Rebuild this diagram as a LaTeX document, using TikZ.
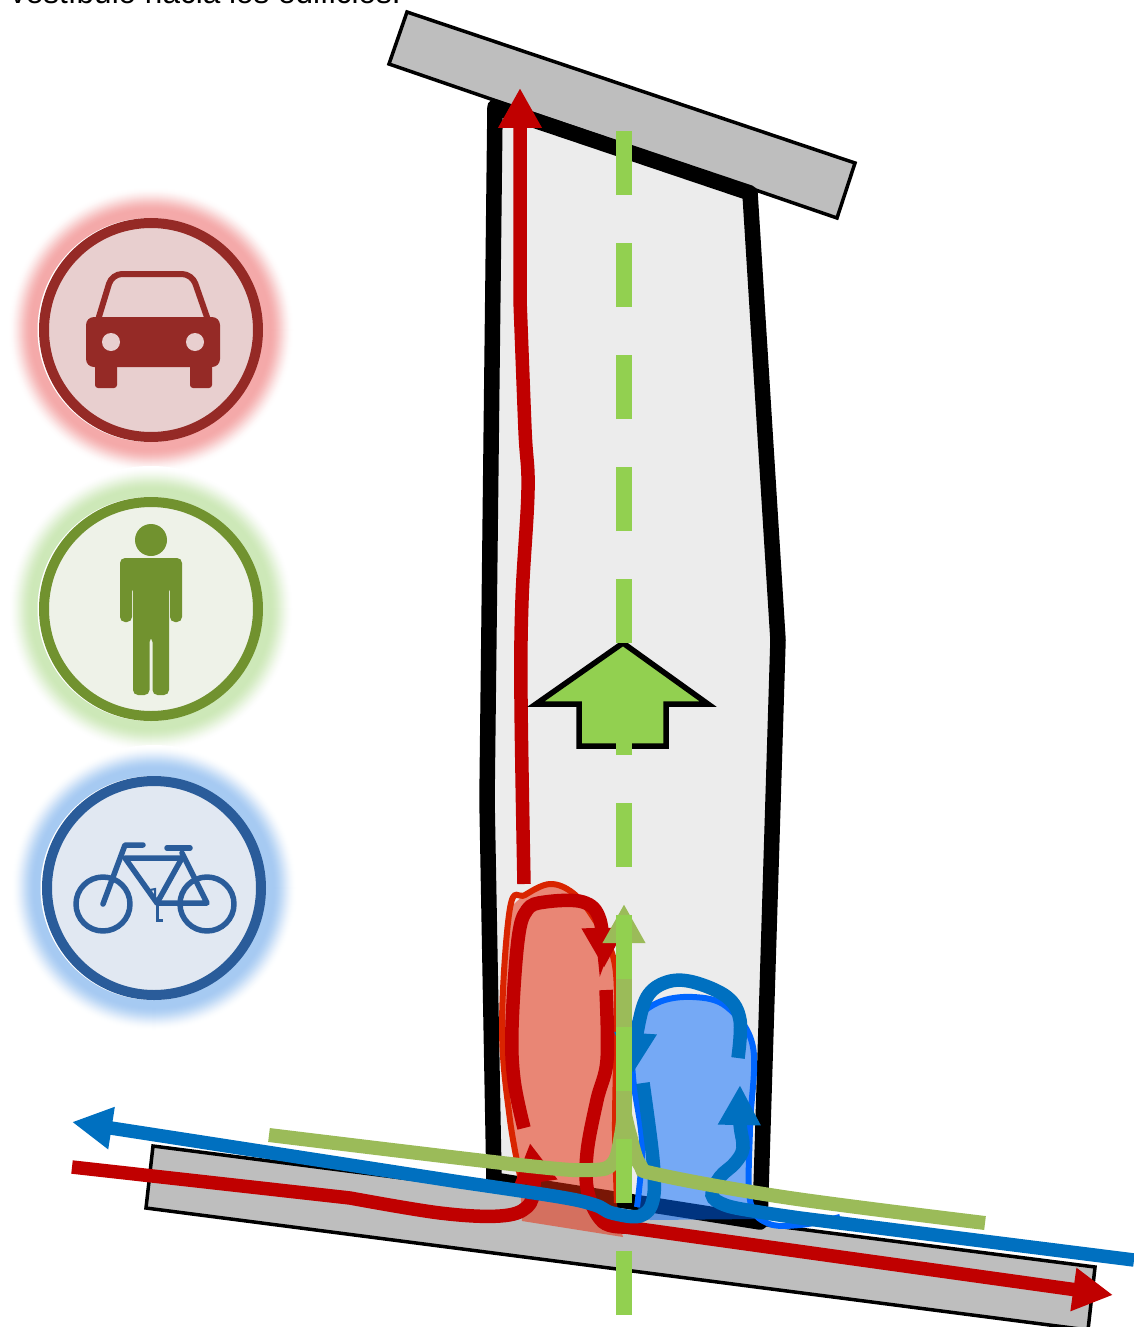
\documentclass[tikz,border=0pt]{standalone}
\usepackage{fontspec}
\setmainfont{Liberation Sans}
\usetikzlibrary{arrows.meta}
\definecolor{bldg}{HTML}{BEBEBE}
\definecolor{roadfill}{HTML}{ECECEC}
\definecolor{redline}{HTML}{C00000}
\definecolor{redblob}{RGB}{232,42,10}
\definecolor{redout}{HTML}{D92400}
\definecolor{blueline}{HTML}{0070C0}
\definecolor{blueblob}{RGB}{0,104,255}
\definecolor{blueout}{HTML}{0066FF}
\definecolor{greenlight}{HTML}{92D050}
\definecolor{greenolive}{HTML}{9BBB59}
\definecolor{rglow}{HTML}{F4A9A9}\definecolor{rring}{HTML}{952A26}\definecolor{rfill}{HTML}{E8CFCF}
\definecolor{gglow}{HTML}{CDE8B8}\definecolor{gring}{HTML}{71922F}\definecolor{gfill}{HTML}{EEF2E8}
\definecolor{bglow}{HTML}{A6CAF2}\definecolor{bring}{HTML}{2A5C9A}\definecolor{bfill}{HTML}{E1E8F2}
\tikzset{
  bldgbox/.style={draw=black,line width=3.5pt,fill=bldg,line join=miter},
  roadbox/.style={draw=black,line width=15.5pt,fill=roadfill,line join=round},
  redpath/.style={draw=redline,line width=13.5pt},
  bluepath/.style={draw=blueline,line width=13.5pt},
  olivepath/.style={draw=greenolive,line width=14pt},
  dashgreen/.style={draw=greenlight,line width=16pt,dash pattern=on 64pt off 48pt},
  redhead/.style={-{Triangle[length=40pt,width=41pt,fill=redline,color=redline]}},
  bluehead/.style={-{Triangle[length=40pt,width=40pt,fill=blueline,color=blueline]}},
  bigarrow/.style={draw=black,line width=5.5pt,fill=greenlight,line join=miter},
  redzone/.style={fill=redblob,fill opacity=.525},
  bluezone/.style={fill=blueblob,fill opacity=.5},
  cv/.style={smooth,tension=.6},
}
\newcommand{\signbase}[5]{% x,y,glow,ring,fill
  \foreach \r in {143,142,...,113}{
    \pgfmathsetmacro{\t}{min(1,(143-\r)/24)}
    \pgfmathsetmacro{\p}{100*\t*\t*(3-2*\t)}
    \fill[#3!\p!white] (#1,#2) circle[radius=\r pt];
  }
  \fill[white] (#1-1.5,#2) circle[radius=112pt];
  \draw[#4,line width=10pt,fill=#5] (#1,#2) circle[radius=107pt];
}
\begin{document}
\begin{tikzpicture}[x=1pt,y=-1pt]
\useasboundingbox (0,0) rectangle (1134,1327);
\fill[white] (0,0) rectangle (1134,1327);
\clip (0,0) rectangle (1134,1327);

% caption, cut by the top edge
\node[anchor=base west,inner sep=0pt,font=\fontsize{31.5}{38}\selectfont] (caption) at (10,4) {vestíbulo hacia los edificios.};

% signs
\signbase{151}{330}{rglow}{rring}{rfill}
\signbase{151}{609}{gglow}{gring}{gfill}
\signbase{154}{888}{bglow}{bring}{bfill}

% car
\fill[rring,rounded corners=8pt] (86,317) -- (220,317) -- (220,367) -- (86,367) -- cycle;
\fill[rring,rounded corners=3pt] (95,360) rectangle (117,388);
\fill[rring,rounded corners=3pt] (190,360) rectangle (212,388);
\draw[rring,line width=6pt,rounded corners=10pt] (98,320) -- (112,274) -- (192,274) -- (208,320);
\fill[rfill] (111,342) circle[radius=9pt];
\fill[rfill] (195,342) circle[radius=9pt];

% pedestrian
\fill[gring] (151,540) circle[radius=16pt];
\fill[gring,rounded corners=5pt] (120,558) -- (182,558) -- (182,622) -- (170,622) -- (170,586) -- (169,586) -- (169,695) -- (152.5,695) -- (152.5,637) -- (149.5,637) -- (149.5,695) -- (133,695) -- (133,586) -- (132,586) -- (132,622) -- (120,622) -- cycle;

% bicycle
\begin{scope}[draw=bring,line width=5.5pt,line cap=round,line join=round]
\draw (103,904) circle[radius=27pt];
\draw (207,904) circle[radius=27pt];
\draw (103,904) -- (125,845) -- (143,845);
\draw (125,858) -- (182,858) -- (157,903) -- cycle;
\draw (157,903) -- (207,903) -- (182,853);
\draw (167,848) -- (190,848);
\end{scope}
\draw[bring,line width=3pt] (157,903) -- (157,920) -- (163,920);
\draw[bring,line width=2pt] (150,890) -- (155,889) -- (155,900);

% buildings and road
\filldraw[bldgbox] (153,1146) -- (1095,1267) -- (1088,1330) -- (146,1208) -- cycle;
\filldraw[bldgbox] (407,12) -- (855,163) -- (837,218) -- (389,64) -- cycle;
\filldraw[roadbox] (495,107) -- (750,193) -- (778,640) -- (760,1222) -- (494,1180) -- (487,800) -- cycle;

% coloured zones
\path[redzone] plot[cv] coordinates {(510,908) (525,895) (550,884) (573,893) (593,917) (612,953) (617,993) (616,1060) (615,1133) (617,1203) (623,1237)} -- (522,1221) -- plot[cv] coordinates {(520,1180) (510,1120) (502,1027) (510,908)} -- cycle;
\draw[redout,line width=6pt] plot[cv] coordinates {(617,1203) (615,1133) (616,1060) (617,993) (612,953) (593,917) (573,893) (550,884) (525,895) (510,908) (502,1027) (510,1120) (522,1185)};
\path[bluezone] plot[cv] coordinates {(633,1077) (633,1027) (657,1003) (693,997) (727,1007) (755,1047) (750,1127) (750,1200) (757,1219)} -- (650,1220) -- plot[cv] coordinates {(637,1207) (642,1143) (633,1077)} -- cycle;
\draw[blueout,line width=6pt] plot[cv] coordinates {(637,1207) (642,1143) (633,1077) (633,1027) (657,1003) (693,997) (727,1007) (753,1047) (750,1127) (750,1200) (767,1223) (800,1225) (840,1217)};

% vehicle paths
\draw[redpath,redhead] (72,1167) -- plot[cv] coordinates {(350,1198) (440,1213) (500,1216) (527,1207) (534,1185) (530,1143)};
\draw[redpath,redhead] plot[cv] coordinates {(524,1128) (514,1080) (512,1027) (518,940) (527,910) (545,902) (583,902) (600,920) (604,968)};
\draw[redpath,redhead] plot[cv] coordinates {(606,990) (607,1060) (597,1100) (587,1153) (588,1193) (603,1222) (625,1227)} -- (1113,1295);
\draw[redpath,redhead] plot[cv] coordinates {(524,884) (521,700) (522,600) (528,490) (525,430) (520,300)} -- (520,88);

\draw[bluepath,bluehead] plot[cv] coordinates {(643,1083) (653,1160) (653,1200) (640,1216) (612,1213) (595,1205) (560,1197) (460,1182)} -- (72,1122);
\draw[bluepath,bluehead] plot[cv] coordinates {(738,1058) (740,1020) (727,997) (693,982) (667,982) (647,997) (637,1033) (633,1073)};
\draw[bluepath,bluehead] (1134,1260) -- plot[cv] coordinates {(800,1218) (753,1211) (725,1205) (712,1195) (720,1177) (735,1163) (743,1148) (740,1123) (740,1085)};

% pedestrian paths
\draw[olivepath] plot[cv] coordinates {(269,1135) (520,1165) (590,1170) (613,1163) (621,1135) (624,1110)};
\draw[olivepath] plot[cv] coordinates {(985,1223) (790,1198) (660,1175) (640,1165) (630,1135) (624,1110)};
\draw[draw=greenolive,line width=16pt,-{Triangle[length=39pt,width=40pt,color=greenolive,fill=greenolive]}] (624,1130) -- (624,904);

% big direction arrow
\filldraw[bigarrow] (623,643) -- (708,704) -- (666,704) -- (666,746) -- (579,746) -- (579,704) -- (536,704) -- cycle;
% dashed centre line
\draw[dashgreen] (623.7,1315) -- (623.7,130);
\end{tikzpicture}
\end{document}
